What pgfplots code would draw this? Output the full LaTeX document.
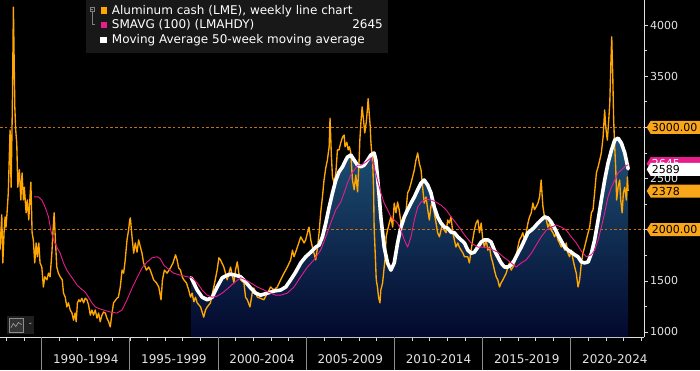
\documentclass[border=0pt]{standalone}
\usepackage{pgfplots}
\usepackage{pgfplotstable}
\pgfplotsset{compat=1.18}
\usepackage{fontspec}
\setmainfont{DejaVu Sans}
\definecolor{alu}{RGB}{255,166,0}
\definecolor{smapink}{RGB}{232,28,140}
\definecolor{refline}{RGB}{200,112,0}
\definecolor{navytop}{RGB}{30,82,118}
\definecolor{navybot}{RGB}{3,8,45}
\definecolor{legbg}{RGB}{24,24,24}
\definecolor{tickc}{RGB}{228,228,228}
\definecolor{tagor}{RGB}{250,166,26}

\pgfplotstableread[row sep=\\]{year val\\
1987.64 1800\\ 1987.74 2145\\ 1987.80 1675\\ 1987.87 1970\\ 1987.93 2125\\ 1987.98 2025\\ 1988.04 2165\\ 1988.11 2360\\
1988.21 2975\\ 1988.27 2415\\ 1988.34 3200\\ 1988.40 4175\\ 1988.48 3200\\ 1988.53 2975\\ 1988.59 2845\\ 1988.65 2415\\
1988.74 2585\\ 1988.82 2290\\ 1988.89 2555\\ 1988.97 2290\\ 1989.02 2415\\ 1989.12 2165\\ 1989.19 2290\\ 1989.27 2095\\
1989.39 2465\\ 1989.46 1970\\ 1989.53 1900\\ 1989.61 1675\\ 1989.69 1870\\ 1989.76 1735\\ 1989.84 1870\\ 1989.91 1675\\
1990.01 1635\\ 1990.10 1440\\ 1990.18 1540\\ 1990.30 1510\\ 1990.39 1575\\ 1990.48 1540\\ 1990.58 1770\\ 1990.64 1970\\
1990.71 2165\\ 1990.78 1900\\ 1990.86 1635\\ 1990.95 1575\\ 1991.05 1540\\ 1991.17 1510\\ 1991.24 1380\\ 1991.34 1340\\
1991.43 1245\\ 1991.52 1285\\ 1991.62 1215\\ 1991.72 1185\\ 1991.81 1115\\ 1991.90 1185\\ 1991.96 1100\\ 1992.03 1285\\
1992.11 1315\\ 1992.19 1295\\ 1992.28 1330\\ 1992.38 1285\\ 1992.47 1330\\ 1992.57 1315\\ 1992.66 1265\\ 1992.76 1165\\
1992.85 1215\\ 1992.94 1165\\ 1993.04 1215\\ 1993.14 1135\\ 1993.23 1185\\ 1993.32 1100\\ 1993.42 1165\\ 1993.51 1195\\
1993.61 1185\\ 1993.70 1135\\ 1993.80 1100\\ 1993.89 1050\\ 1993.99 1185\\ 1994.08 1285\\ 1994.27 1330\\ 1994.35 1340\\
1994.46 1440\\ 1994.56 1605\\ 1994.65 1575\\ 1994.74 1705\\ 1994.84 1900\\ 1994.93 1995\\ 1994.99 2095\\ 1995.03 2115\\
1995.13 1920\\ 1995.22 1770\\ 1995.31 1870\\ 1995.41 1780\\ 1995.50 1900\\ 1995.60 1830\\ 1995.69 1770\\ 1995.78 1675\\
1995.94 1605\\ 1996.07 1635\\ 1996.16 1605\\ 1996.26 1555\\ 1996.35 1510\\ 1996.51 1480\\ 1996.64 1440\\ 1996.77 1315\\
1996.85 1510\\ 1996.96 1605\\ 1997.11 1575\\ 1997.30 1625\\ 1997.45 1675\\ 1997.59 1755\\ 1997.68 1705\\ 1997.77 1625\\
1997.87 1605\\ 1997.97 1540\\ 1998.06 1510\\ 1998.21 1480\\ 1998.34 1410\\ 1998.44 1340\\ 1998.53 1380\\ 1998.63 1295\\
1998.72 1340\\ 1998.82 1285\\ 1999.01 1245\\ 1999.10 1195\\ 1999.19 1145\\ 1999.29 1215\\ 1999.39 1245\\ 1999.57 1285\\
1999.76 1440\\ 1999.95 1605\\ 2000.05 1725\\ 2000.14 1705\\ 2000.33 1635\\ 2000.52 1510\\ 2000.71 1635\\ 2000.90 1480\\
2000.99 1605\\ 2001.09 1685\\ 2001.18 1575\\ 2001.28 1510\\ 2001.47 1480\\ 2001.56 1340\\ 2001.66 1315\\ 2001.81 1245\\
2001.94 1380\\ 2002.03 1430\\ 2002.23 1340\\ 2002.41 1330\\ 2002.60 1315\\ 2002.80 1380\\ 2002.98 1440\\ 2003.17 1410\\
2003.36 1440\\ 2003.55 1510\\ 2003.74 1575\\ 2003.93 1635\\ 2004.12 1705\\ 2004.22 1800\\ 2004.31 1735\\ 2004.50 1830\\
2004.69 1930\\ 2004.88 1870\\ 2004.97 1900\\ 2005.07 1970\\ 2005.16 2025\\ 2005.26 1900\\ 2005.35 1830\\ 2005.44 1770\\
2005.54 1705\\ 2005.64 1830\\ 2005.73 1970\\ 2005.82 2165\\ 2005.92 2320\\ 2006.01 2485\\ 2006.11 2605\\ 2006.20 2680\\
2006.30 2810\\ 2006.35 3090\\ 2006.43 2710\\ 2006.49 2515\\ 2006.58 2455\\ 2006.68 2555\\ 2006.77 2780\\ 2006.86 2780\\
2006.96 2850\\ 2007.06 2905\\ 2007.15 2925\\ 2007.20 2810\\ 2007.30 2855\\ 2007.38 2780\\ 2007.45 2810\\ 2007.53 2750\\
2007.62 2485\\ 2007.72 2390\\ 2007.81 2535\\ 2007.91 2370\\ 2008.00 2680\\ 2008.04 2875\\ 2008.10 3045\\ 2008.17 3200\\
2008.25 3070\\ 2008.32 2945\\ 2008.40 3045\\ 2008.48 3200\\ 2008.51 3280\\ 2008.57 3140\\ 2008.63 3005\\ 2008.66 2875\\
2008.70 2780\\ 2008.76 2710\\ 2008.82 2390\\ 2008.85 2025\\ 2008.91 1775\\ 2008.97 1510\\ 2009.04 1440\\ 2009.10 1340\\
2009.18 1285\\ 2009.23 1410\\ 2009.33 1480\\ 2009.42 1635\\ 2009.48 1730\\ 2009.53 1930\\ 2009.61 1995\\ 2009.71 2065\\
2009.80 2125\\ 2009.90 2025\\ 2009.99 2260\\ 2010.09 2165\\ 2010.18 2270\\ 2010.27 2195\\ 2010.37 2065\\ 2010.47 2095\\
2010.56 2125\\ 2010.65 2165\\ 2010.75 2360\\ 2010.84 2390\\ 2010.94 2455\\ 2011.03 2515\\ 2011.13 2585\\ 2011.22 2680\\
2011.32 2750\\ 2011.41 2650\\ 2011.51 2585\\ 2011.60 2415\\ 2011.69 2260\\ 2011.79 2320\\ 2011.89 2195\\ 2011.98 2095\\
2012.07 2225\\ 2012.17 2290\\ 2012.26 2165\\ 2012.36 2065\\ 2012.45 1970\\ 2012.55 1930\\ 2012.64 1995\\ 2012.74 2065\\
2012.83 1995\\ 2012.93 1970\\ 2013.02 2095\\ 2013.11 2065\\ 2013.21 2125\\ 2013.31 1970\\ 2013.40 1900\\ 2013.49 1830\\
2013.59 1870\\ 2013.68 1830\\ 2013.78 1800\\ 2013.89 1770\\ 2013.97 1735\\ 2014.16 1735\\ 2014.25 1675\\ 2014.35 1800\\
2014.44 1900\\ 2014.53 1995\\ 2014.63 2065\\ 2014.73 2095\\ 2014.82 1970\\ 2014.92 2065\\ 2015.01 1900\\ 2015.10 1830\\
2015.20 1900\\ 2015.30 1800\\ 2015.39 1830\\ 2015.48 1735\\ 2015.58 1675\\ 2015.67 1605\\ 2015.77 1540\\ 2015.86 1510\\
2015.96 1440\\ 2016.05 1480\\ 2016.15 1510\\ 2016.24 1540\\ 2016.34 1575\\ 2016.43 1635\\ 2016.52 1675\\ 2016.62 1605\\
2016.72 1635\\ 2016.81 1675\\ 2016.90 1735\\ 2017.00 1830\\ 2017.09 1900\\ 2017.19 1930\\ 2017.28 1970\\ 2017.38 1900\\
2017.47 1970\\ 2017.57 2065\\ 2017.66 2125\\ 2017.76 2165\\ 2017.85 2260\\ 2017.94 2195\\ 2018.04 2225\\ 2018.14 2260\\
2018.23 2320\\ 2018.32 2485\\ 2018.38 2320\\ 2018.42 2225\\ 2018.51 2125\\ 2018.61 2095\\ 2018.70 2025\\ 2018.80 2065\\
2018.89 1995\\ 2018.99 1970\\ 2019.08 1930\\ 2019.18 1970\\ 2019.27 1900\\ 2019.36 1870\\ 2019.46 1830\\ 2019.56 1870\\
2019.65 1800\\ 2019.74 1870\\ 2019.84 1770\\ 2019.93 1735\\ 2020.03 1800\\ 2020.13 1705\\ 2020.22 1635\\ 2020.31 1575\\
2020.41 1440\\ 2020.50 1510\\ 2020.60 1675\\ 2020.69 1770\\ 2020.78 1830\\ 2020.88 1900\\ 2020.98 1970\\ 2021.07 2025\\
2021.17 2165\\ 2021.26 2195\\ 2021.35 2360\\ 2021.45 2555\\ 2021.55 2615\\ 2021.64 2680\\ 2021.73 2750\\ 2021.83 2905\\
2021.92 3170\\ 2021.98 3005\\ 2022.07 2875\\ 2022.15 3070\\ 2022.21 3240\\ 2022.26 3560\\ 2022.32 3885\\ 2022.38 3490\\
2022.43 3070\\ 2022.49 2810\\ 2022.55 2585\\ 2022.60 2290\\ 2022.68 2415\\ 2022.77 2485\\ 2022.83 2290\\ 2022.91 2165\\
2022.98 2360\\ 2023.06 2415\\ 2023.15 2290\\ 2023.21 2515\\ 2023.25 2380\\
}\alucash

\pgfplotstableread[row sep=\\]{year val\\
1989.57 2320\\ 1989.82 2320\\ 1990.01 2290\\ 1990.20 2220\\ 1990.39 2125\\ 1990.52 1995\\ 1990.67 1900\\ 1990.86 1830\\
1991.05 1770\\ 1991.24 1675\\ 1991.43 1605\\ 1991.62 1555\\ 1991.81 1510\\ 1992.00 1460\\ 1992.19 1430\\ 1992.47 1390\\
1992.66 1340\\ 1992.85 1285\\ 1993.04 1245\\ 1993.32 1225\\ 1993.70 1205\\ 1993.89 1195\\ 1994.27 1185\\ 1994.56 1215\\
1994.84 1315\\ 1995.13 1430\\ 1995.41 1530\\ 1995.69 1625\\ 1995.98 1685\\ 1996.26 1725\\ 1996.55 1735\\ 1996.73 1715\\
1996.92 1655\\ 1997.11 1625\\ 1997.49 1575\\ 1997.87 1555\\ 1998.25 1540\\ 1998.53 1530\\ 1998.82 1480\\ 1999.10 1410\\
1999.39 1360\\ 1999.67 1340\\ 1999.95 1350\\ 2000.24 1380\\ 2000.52 1420\\ 2000.90 1480\\ 2001.28 1530\\ 2001.56 1510\\
2001.85 1480\\ 2002.23 1440\\ 2002.60 1410\\ 2002.98 1380\\ 2003.27 1360\\ 2003.55 1360\\ 2003.93 1380\\ 2004.31 1440\\
2004.69 1540\\ 2005.07 1635\\ 2005.44 1705\\ 2005.82 1800\\ 2006.11 1930\\ 2006.39 2065\\ 2006.68 2195\\ 2006.96 2270\\
2007.15 2360\\ 2007.34 2455\\ 2007.53 2535\\ 2007.91 2630\\ 2008.10 2630\\ 2008.38 2660\\ 2008.66 2700\\ 2008.85 2615\\
2009.04 2485\\ 2009.23 2360\\ 2009.42 2260\\ 2009.61 2195\\ 2009.80 2125\\ 2010.18 2065\\ 2010.37 1995\\ 2010.56 1900\\
2010.75 1830\\ 2010.94 1930\\ 2011.13 2095\\ 2011.32 2220\\ 2011.51 2270\\ 2011.79 2300\\ 2012.07 2290\\ 2012.36 2270\\
2012.64 2240\\ 2012.93 2195\\ 2013.21 2125\\ 2013.49 2065\\ 2013.78 1995\\ 2014.06 1930\\ 2014.35 1870\\ 2014.73 1830\\
2015.10 1830\\ 2015.48 1810\\ 2015.86 1780\\ 2016.24 1725\\ 2016.62 1675\\ 2016.90 1635\\ 2017.19 1675\\ 2017.47 1705\\
2017.76 1770\\ 2018.04 1850\\ 2018.32 1930\\ 2018.61 1995\\ 2018.89 2025\\ 2019.18 2045\\ 2019.46 2025\\ 2019.74 1995\\
2020.03 1930\\ 2020.31 1870\\ 2020.60 1790\\ 2020.88 1735\\ 2021.17 1755\\ 2021.35 1800\\ 2021.55 1900\\ 2021.73 2025\\
2021.92 2165\\ 2022.11 2320\\ 2022.30 2415\\ 2022.49 2485\\ 2022.68 2555\\ 2022.87 2585\\ 2023.06 2615\\ 2023.25 2635\\
}\smavg

\pgfplotstableread[row sep=\\]{year val\\
1998.48 1530\\ 1998.82 1410\\ 1999.10 1340\\ 1999.39 1315\\ 1999.67 1340\\ 1999.95 1440\\ 2000.24 1530\\ 2000.52 1555\\
2000.71 1565\\ 2000.99 1555\\ 2001.28 1540\\ 2001.56 1490\\ 2001.85 1430\\ 2002.13 1380\\ 2002.41 1360\\ 2002.80 1380\\
2003.17 1400\\ 2003.55 1410\\ 2003.84 1440\\ 2004.12 1510\\ 2004.40 1585\\ 2004.69 1675\\ 2004.97 1735\\ 2005.26 1780\\
2005.54 1830\\ 2005.73 1850\\ 2005.92 1930\\ 2006.11 2065\\ 2006.30 2220\\ 2006.49 2360\\ 2006.68 2485\\ 2006.86 2565\\
2007.06 2615\\ 2007.24 2680\\ 2007.34 2710\\ 2007.53 2730\\ 2007.72 2680\\ 2007.91 2630\\ 2008.10 2615\\ 2008.28 2630\\
2008.48 2680\\ 2008.66 2730\\ 2008.85 2750\\ 2008.95 2680\\ 2009.04 2515\\ 2009.14 2320\\ 2009.23 2125\\ 2009.33 1970\\
2009.42 1830\\ 2009.61 1675\\ 2009.80 1605\\ 2009.99 1675\\ 2010.18 1870\\ 2010.37 2025\\ 2010.56 2125\\ 2010.75 2195\\
2010.94 2260\\ 2011.13 2320\\ 2011.32 2390\\ 2011.51 2455\\ 2011.69 2485\\ 2011.89 2435\\ 2012.07 2360\\ 2012.26 2220\\
2012.45 2125\\ 2012.64 2065\\ 2012.83 2025\\ 2013.02 2015\\ 2013.21 1975\\ 2013.40 1970\\ 2013.59 1930\\ 2013.78 1900\\
2013.97 1870\\ 2014.16 1800\\ 2014.35 1770\\ 2014.53 1780\\ 2014.73 1830\\ 2014.92 1880\\ 2015.10 1900\\ 2015.30 1900\\
2015.48 1880\\ 2015.67 1800\\ 2015.86 1735\\ 2016.05 1675\\ 2016.24 1635\\ 2016.43 1635\\ 2016.62 1655\\ 2016.81 1705\\
2017.00 1770\\ 2017.19 1830\\ 2017.38 1900\\ 2017.57 1970\\ 2017.76 1995\\ 2017.94 2025\\ 2018.14 2065\\ 2018.32 2095\\
2018.51 2125\\ 2018.70 2115\\ 2018.89 2075\\ 2019.08 2015\\ 2019.27 1950\\ 2019.46 1890\\ 2019.65 1830\\ 2019.84 1800\\
2020.03 1780\\ 2020.22 1755\\ 2020.41 1735\\ 2020.60 1685\\ 2020.78 1675\\ 2020.98 1685\\ 2021.17 1770\\ 2021.35 1900\\
2021.55 2095\\ 2021.73 2290\\ 2021.92 2485\\ 2022.11 2650\\ 2022.30 2775\\ 2022.49 2875\\ 2022.68 2895\\ 2022.87 2845\\
2023.06 2750\\ 2023.25 2595\\
}\mafifty

\pgfplotstableread[row sep=\\]{year val\\ 1987.64 3000\\ 2024.15 3000\\}\lvlhi
\pgfplotstableread[row sep=\\]{year val\\ 1987.64 2000\\ 2024.15 2000\\}\lvllo

\newcommand{\pricetag}[4]{%
  \fill[#2] ([xshift=2.7pt]#1) -- ++(4pt,6.5pt) -- ++(50pt,0) -- ++(0,-13pt) -- ++(-50pt,0) -- cycle;
  \node[anchor=west, inner sep=0pt, text=#3, font=\fontsize{11}{11}\selectfont] at ([xshift=7.6pt]#1) {#4};
}

\begin{document}
\begin{tikzpicture}[x=1pt,y=1pt]
\useasboundingbox (0,0) rectangle (700,370);
\fill[black] (0,0) rectangle (700,370);
\begin{axis}[
  at={(0pt,33pt)}, anchor=south west,
  scale only axis, width=644pt, height=337pt,
  xmin=1987.64, xmax=2024.15, ymin=951, ymax=4245,
  axis x line*=bottom, axis y line*=right,
  axis line style={draw=white!88!black, line width=0.8pt, -},
  xtick={1988,...,2024}, xticklabels={},
  major tick length=3.5pt, minor tick length=2.5pt,
  tick align=outside,
  tick style={draw=white!85!black, line width=0.6pt},
  extra x ticks={1990,1995,2000,2005,2010,2015,2020},
  extra x tick labels={},
  extra x tick style={major tick length=33pt, tick style={draw=white!55!black, line width=0.7pt}},
  ytick={1000,1500,2000,2500,3000,3500,4000},
  yticklabels={1000,1500,,2500,,3500,4000},
  minor y tick num=1,
  yticklabel style={font=\fontsize{11}{11}\selectfont, text=tickc, anchor=west, xshift=-1pt},
  /pgf/number format/assume math mode=true,
  /pgf/number format/1000 sep={},
  clip mode=individual,
]
\addplot[draw=none, top color=navytop, bottom color=navybot] table[x=year,y=val]{\mafifty}
   |- (axis cs:1998.48,951) -- cycle;
\addplot[draw=refline, line width=1.1pt, line cap=butt, dash pattern=on 2.6pt off 2.2pt] table[x=year,y=val]{\lvlhi};
\addplot[draw=refline, line width=1.1pt, line cap=butt, dash pattern=on 2.6pt off 2.2pt] table[x=year,y=val]{\lvllo};
\addplot[draw=alu, line width=1.35pt, line join=round] table[x=year,y=val]{\alucash};
\addplot[draw=white, line width=3.6pt, line join=round, line cap=round] table[x=year,y=val]{\mafifty};
\addplot[draw=smapink, line width=0.9pt, line join=round] table[x=year,y=val]{\smavg};
\foreach \yy/\lab in {1992.5/1990-1994,1997.5/1995-1999,2002.5/2000-2004,2007.5/2005-2009,2012.5/2010-2014,2017.5/2015-2019,2022.5/2020-2024}{
  \edef\tmp{\noexpand\node[font=\noexpand\fontsize{12}{12}\noexpand\selectfont, text=tickc] at ([yshift=-22pt]axis cs:\yy,951) {\lab};}
  \tmp
}
\coordinate (r3000) at (axis cs:2024.15,3000);
\coordinate (r2000) at (axis cs:2024.15,2000);
\coordinate (r2645) at (axis cs:2024.15,2645);
\coordinate (r2589) at (axis cs:2024.15,2589);
\coordinate (r2378) at (axis cs:2024.15,2378);
\end{axis}
% price tags on the right scale
\pricetag{r3000}{tagor}{black}{3000.00}
\pricetag{r2000}{tagor}{black}{2000.00}
\pricetag{r2645}{smapink}{white}{2645}
\pricetag{r2378}{tagor}{black}{2378}
\pricetag{r2589}{white}{black}{2589}
% legend box
\fill[legbg] (86,317.3) rectangle (388,370);
\draw[gray, line width=0.5pt] (90,358.5) rectangle (94.2,362.7);
\draw[gray, line width=0.5pt] (90.8,360.6) -- (93.4,360.6);
\draw[gray, line width=0.5pt] (92.1,358.5) -- (92.1,346) -- (95,346);
\fill[alu] (100.7,356) rectangle (107.3,362.7);
\fill[smapink] (100.7,341.7) rectangle (107.3,348.3);
\fill[white] (100.3,326.7) rectangle (107,333.4);
\node[anchor=base west, inner sep=0pt, text=white, font=\fontsize{12}{12}\selectfont] at (111.7,355.4) {Aluminum cash (LME), weekly line chart};
\node[anchor=base west, inner sep=0pt, text=white, font=\fontsize{12}{12}\selectfont] at (111.7,341) {SMAVG (100) (LMAHDY)};
\node[anchor=base east, inner sep=0pt, text=white, font=\fontsize{12}{12}\selectfont] at (383,341) {2645};
\node[anchor=base west, inner sep=0pt, text=white, font=\fontsize{12}{12}\selectfont] at (111.7,326.4) {Moving Average 50-week moving average};
% chart-type icon, lower left
\fill[black!88] (7.3,36) rectangle (34,54);
\draw[black!45, fill=black!80, line width=0.6pt] (9.3,38) rectangle (23.3,52);
\draw[black!35, line width=0.6pt] (10.8,42) -- (13.3,46.5) -- (15.8,43.5) -- (18.3,47.5) -- (21.6,45.5);
\fill[black!45] (28.6,47.2) -- (31.8,47.2) -- (30.2,45.6) -- cycle;
\end{tikzpicture}
\end{document}
